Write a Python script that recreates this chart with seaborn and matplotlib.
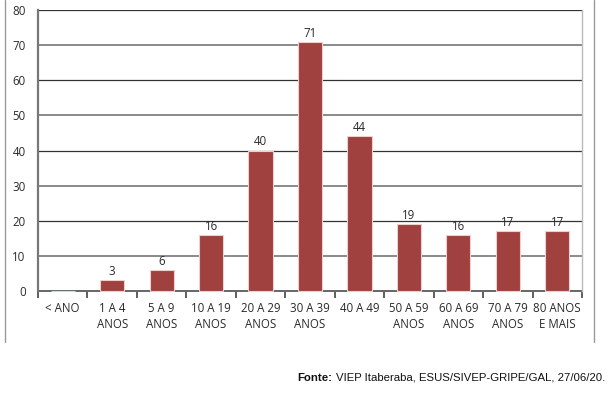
import matplotlib
matplotlib.use("Agg")
import matplotlib.pyplot as plt
import seaborn as sns
import pandas as pd
from matplotlib.lines import Line2D

categories = ["< ANO", "1 A 4\nANOS", "5 A 9\nANOS", "10 A 19\nANOS", "20 A 29\nANOS",
              "30 A 39\nANOS", "40 A 49", "50 A 59\nANOS", "60 A 69\nANOS",
              "70 A 79\nANOS", "80 ANOS\nE MAIS"]
values = [0, 3, 6, 16, 40, 71, 44, 19, 16, 17, 17]
yticks = [0, 10, 20, 30, 40, 50, 60, 70, 80]

sns.set_style("white")
plt.rcParams['font.family'] = ['Open Sans', 'DejaVu Sans']

df = pd.DataFrame({"cat": categories, "val": values})

fig = plt.figure(figsize=(6.16, 3.97), dpi=100)
ax = fig.add_axes([38/616, 1-291/397, (582-38)/616, (291-10)/397])

sns.barplot(data=df, x="cat", y="val", ax=ax, color="#A0413F", width=0.49,
            edgecolor="#EDCFCF", linewidth=0.8, saturation=1, zorder=3)
for p in ax.patches:
    p.set_clip_on(False)

ax.set_ylim(0, 80)
ax.set_xlim(-0.5, len(categories) - 0.5)
ax.set_yticks(yticks)
ax.set_xlabel("")
ax.set_ylabel("")

# grid
ax.yaxis.grid(True, zorder=0)
for i, gl in enumerate(ax.get_ygridlines()):
    if yticks[i] % 20 == 0:
        gl.set_color("#333333")
        gl.set_linewidth(0.9)
    else:
        gl.set_color("#8a8a8a")
        gl.set_linewidth(1.4)
ax.set_axisbelow(True)

ax.spines["top"].set_visible(False)
ax.spines["left"].set_color("#777777")
ax.spines["left"].set_linewidth(1.6)
ax.spines["right"].set_color("#bbbbbb")
ax.spines["right"].set_linewidth(1.0)
ax.spines["bottom"].set_color("#666666")
ax.spines["bottom"].set_linewidth(1.4)
ax.spines["bottom"].set_zorder(2)

fs = 8.3
tc = "#2a2a2a"
# x ticks at category boundaries
ax.set_xticks([i for i in range(len(categories))])
ax.set_xticklabels(categories, fontsize=fs, color=tc, linespacing=1.25)
ax.tick_params(axis="x", length=0, pad=8)
ax.set_xticks([i + 0.5 for i in range(-1, len(categories))], minor=True)
ax.tick_params(axis="x", which="minor", length=5, width=1.2, color="#444444", direction="out")
ax.tick_params(axis="y", length=5, width=1.2, color="#444444", direction="out",
               labelsize=fs, labelcolor=tc, pad=4)
ax.tick_params(axis="x", which="minor", bottom=True)

for i, v in enumerate(values):
    if v > 0:
        ax.text(i, v + 0.6, str(v), ha="center", va="bottom", fontsize=fs, color=tc)

# outer frame fragments
fig.add_artist(Line2D([5/616, 5/616], [1, 1-342/397], transform=fig.transFigure,
                      color="#999999", linewidth=1.0))
fig.add_artist(Line2D([594/616, 594/616], [1, 1-342/397], transform=fig.transFigure,
                      color="#999999", linewidth=1.0))

# source note
fam = ['Liberation Sans', 'DejaVu Sans']
ybase = 1 - 381/397
t = fig.text(605/616, ybase, "VIEP Itaberaba, ESUS/SIVEP-GRIPE/GAL, 27/06/20.",
             ha="right", va="baseline", fontsize=8.2, color="#111111", family=fam)
fig.canvas.draw()
bb = t.get_window_extent(fig.canvas.get_renderer())
x0 = (bb.x0 - 3) / fig.bbox.width
fig.text(x0, ybase, "Fonte:", ha="right", va="baseline", fontsize=8.2,
         fontweight="bold", color="#111111", family=fam)

fig.savefig("out.png", dpi=100)
